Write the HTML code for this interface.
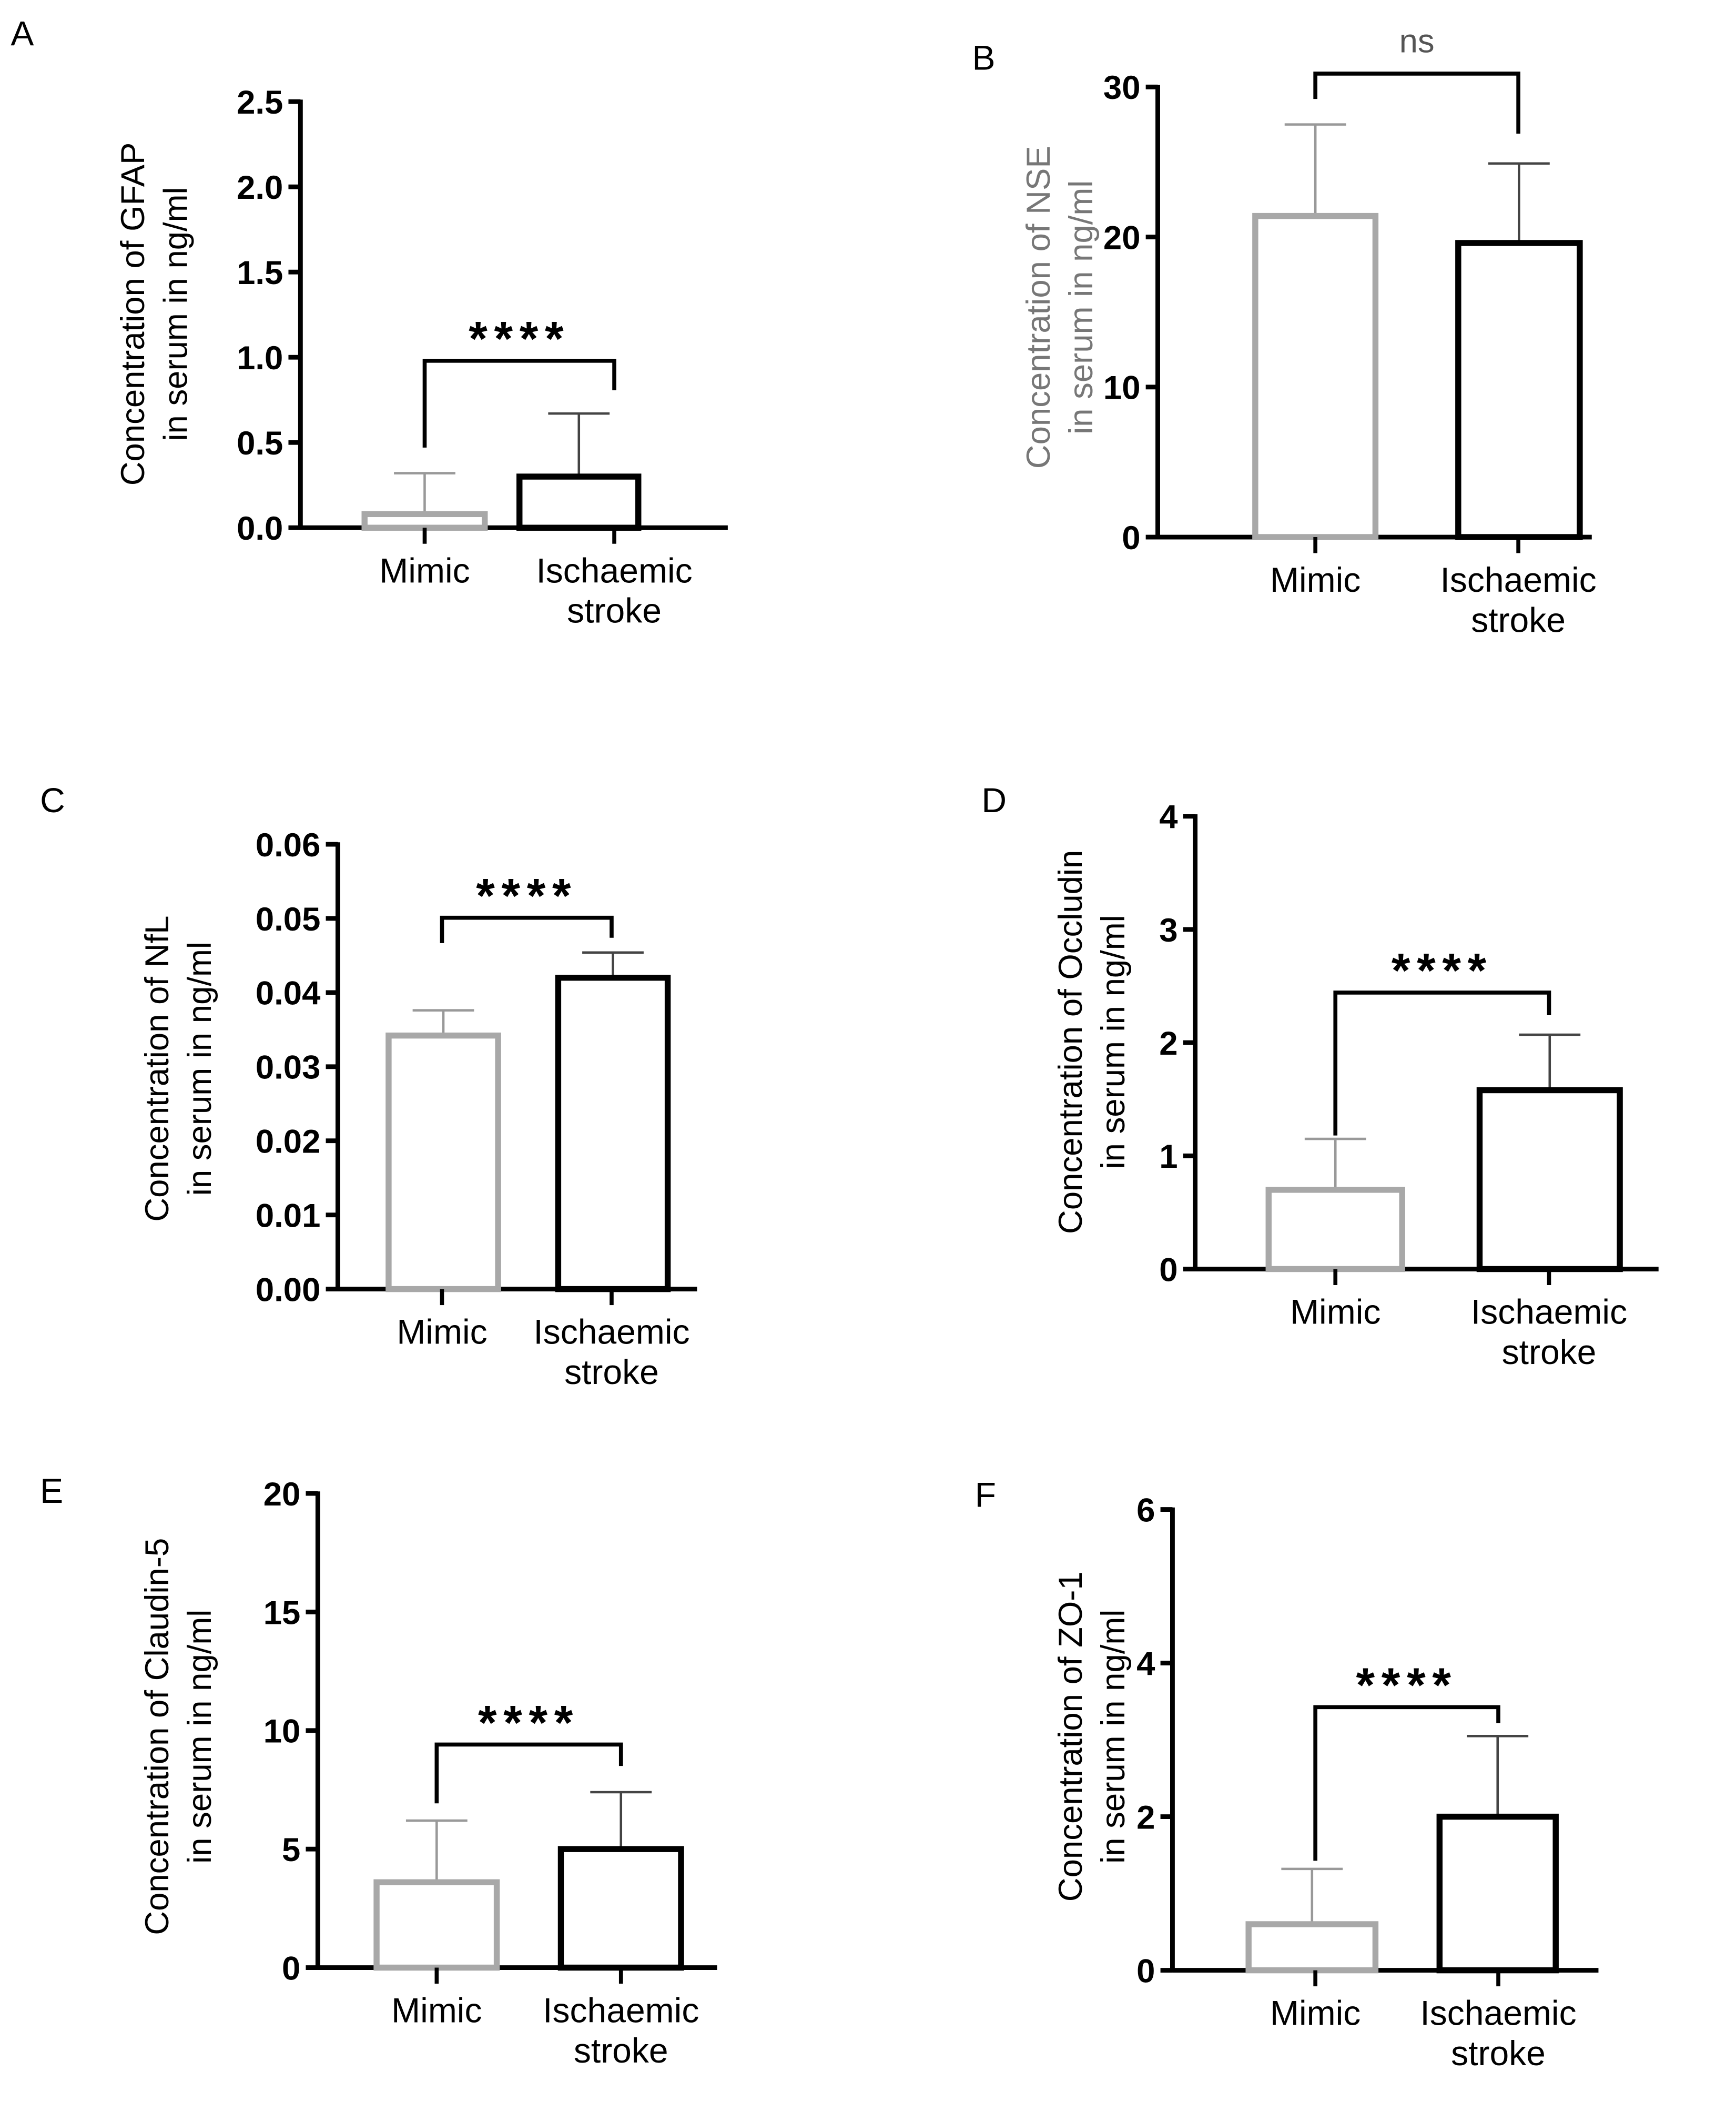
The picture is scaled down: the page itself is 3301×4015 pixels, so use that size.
<!DOCTYPE html>
<html><head><meta charset="utf-8"><style>
html,body{margin:0;padding:0;background:#fff}
svg{display:block}
text{font-family:"Liberation Sans",Arial,sans-serif}
</style></head><body>
<svg id="fig" width="3301" height="4015" viewBox="0 0 1300 1581" xmlns="http://www.w3.org/2000/svg">
<rect width="1300" height="1581" fill="#fff"/>
</svg>
<script>
const categories = ["Mimic", "Ischaemic stroke"];
const gfapMeans = [0.08, 0.30];
const gfapErr = [0.32, 0.67];
const gfapTicks = [0, 0.5, 1.0, 1.5, 2.0, 2.5];
const nseMeans = [21.4, 19.6];
const nseErr = [27.5, 24.9];
const nseTicks = [0, 10, 20, 30];
const nflMeans = [0.0342, 0.042];
const nflErr = [0.0376, 0.0454];
const nflTicks = [0, 0.01, 0.02, 0.03, 0.04, 0.05, 0.06];
const occMeans = [0.7, 1.58];
const occErr = [1.15, 2.07];
const occTicks = [0, 1, 2, 3, 4];
const claMeans = [3.6, 5.0];
const claErr = [6.2, 7.4];
const claTicks = [0, 5, 10, 15, 20];
const zoMeans = [0.6, 2.0];
const zoErr = [1.32, 3.05];
const zoTicks = [0, 2, 4, 6];

const NS = "http://www.w3.org/2000/svg";
const svg = document.getElementById("fig");
function mk(tag, attrs, parent, txt) {
  const e = document.createElementNS(NS, tag);
  for (const k in attrs) e.setAttribute(k, attrs[k]);
  if (txt !== undefined) e.textContent = txt;
  (parent || svg).appendChild(e);
  return e;
}

function panel(cfg, means, errs, ticks) {
  const g = mk("g", {});
  
  
  const ymax = ticks[ticks.length - 1];
  const y = v => cfg.y0 - (v / ymax) * (cfg.y0 - cfg.y1);
  const lt = mk("text", {x: cfg.lx, y: cfg.ly, "font-size": 26}, g, cfg.letter);
  
  
  const ya = mk("line", {x1: cfg.ax, y1: cfg.y1 - 1.5, x2: cfg.ax, y2: cfg.y0 + 1.5, stroke: "#000", "stroke-width": 3.5}, g);
  
  
  const xa = mk("line", {x1: cfg.ax, y1: cfg.y0, x2: cfg.axEnd, y2: cfg.y0, stroke: "#000", "stroke-width": 3.5}, g);
  
  
  ticks.forEach(t => {
    mk("line", {x1: cfg.ax - 9, y1: y(t), x2: cfg.ax, y2: y(t), stroke: "#000", "stroke-width": 3.5}, g);
    const tl = mk("text", {x: cfg.ax - 13, y: y(t) + 9, "font-size": 25, "font-weight": "bold", "text-anchor": "end"}, g, cfg.fmt(t));
    
    
  });
  const tt = mk("text", {transform: `translate(${cfg.tx},${cfg.tcy}) rotate(-90)`, "font-size": 25, "text-anchor": "middle", fill: cfg.tcol || "#000"}, g);
  
  
  mk("tspan", {x: 0, y: 0}, tt, cfg.t1);
  mk("tspan", {x: 0, y: 32}, tt, "in serum in ng/ml");
  const cols = ["#a8a8a8", "#000"];
  const ecols = ["#999", "#444"];
  categories.forEach((c, i) => {
    const [bx0, bx1] = cfg.bars[i];
    const cx = (bx0 + bx1) / 2;
    const eb = mk("line", {x1: cx, y1: y(means[i]), x2: cx, y2: y(errs[i]), stroke: ecols[i], "stroke-width": 1.8}, g);
    
    
    mk("line", {x1: cx - 23, y1: y(errs[i]), x2: cx + 23, y2: y(errs[i]), stroke: ecols[i], "stroke-width": 1.8}, g);
    const b = mk("rect", {x: bx0, y: y(means[i]), width: bx1 - bx0, height: cfg.y0 - y(means[i]), fill: "none", stroke: cols[i], "stroke-width": 4.5}, g);
    
    
    mk("line", {x1: cfg.ct[i], y1: cfg.y0, x2: cfg.ct[i], y2: cfg.y0 + 12, stroke: "#000", "stroke-width": 3}, g);
    const cl = mk("text", {x: cfg.ct[i], y: cfg.y0 + 41, "font-size": 26, "text-anchor": "middle"}, g);
    
    
    if (i === 0) cl.textContent = c;
    else { mk("tspan", {x: cfg.ct[i], dy: 0}, cl, "Ischaemic"); mk("tspan", {x: cfg.ct[i], dy: 30}, cl, "stroke"); }
  });
  const br = cfg.br;
  const bp = mk("polyline", {points: `${cfg.ct[0]},${br[0]} ${cfg.ct[0]},${br[1]} ${cfg.ct[1]},${br[1]} ${cfg.ct[1]},${br[2]}`, fill: "none", stroke: "#000", "stroke-width": 3}, g);
  
  
  const st = mk("text", {x: (cfg.ct[0] + cfg.ct[1]) / 2, y: cfg.sig === "ns" ? br[1] - 16 : br[1] - 4, "font-size": cfg.sig === "ns" ? 25 : 36, "font-weight": cfg.sig === "ns" ? "normal" : "bold", "text-anchor": "middle", "letter-spacing": cfg.sig === "ns" ? 0 : 5, fill: cfg.sig === "ns" ? "#555" : "#000"}, g, cfg.sig);
  
  
}

const f1 = t => t.toFixed(1), f2 = t => t.toFixed(2), f0 = t => String(t);
panel({letter: "A", lx: 8, ly: 34, ax: 225, axEnd: 545, y0: 395, y1: 76, fmt: f1, tx: 108, tcy: 235, t1: "Concentration of GFAP",
  bars: [[273, 363], [389, 478]], ct: [318, 460], br: [335, 270, 292], sig: "****"}, gfapMeans, gfapErr, gfapTicks);
panel({letter: "B", lx: 728, ly: 52, ax: 867, axEnd: 1192, y0: 402, y1: 65, fmt: f0, tx: 786, tcy: 230, t1: "Concentration of NSE", tcol: "#777",
  bars: [[940, 1030], [1092, 1183]], ct: [985, 1137], br: [74, 55, 100], sig: "ns"}, nseMeans, nseErr, nseTicks);
panel({letter: "C", lx: 30, ly: 608, ax: 253, axEnd: 522, y0: 965, y1: 632, fmt: f2, tx: 126, tcy: 800, t1: "Concentration of NfL",
  bars: [[291, 373], [418, 500]], ct: [331, 458], br: [706, 687, 702], sig: "****"}, nflMeans, nflErr, nflTicks);
panel({letter: "D", lx: 735, ly: 608, ax: 895, axEnd: 1242, y0: 950, y1: 611, fmt: f0, tx: 810, tcy: 780, t1: "Concentration of Occludin",
  bars: [[950, 1050], [1108, 1213]], ct: [1000, 1160], br: [850, 743, 760], sig: "****"}, occMeans, occErr, occTicks);
panel({letter: "E", lx: 30, ly: 1125, ax: 238, axEnd: 537, y0: 1473, y1: 1118, fmt: f0, tx: 126, tcy: 1300, t1: "Concentration of Claudin-5",
  bars: [[282, 372], [420, 510]], ct: [327, 465], br: [1350, 1306, 1322], sig: "****"}, claMeans, claErr, claTicks);
panel({letter: "F", lx: 730, ly: 1128, ax: 878, axEnd: 1197, y0: 1475, y1: 1130, fmt: f0, tx: 810, tcy: 1300, t1: "Concentration of ZO-1",
  bars: [[935, 1030], [1078, 1165]], ct: [985, 1122], br: [1393, 1278, 1290], sig: "****"}, zoMeans, zoErr, zoTicks);
</script>
</body></html>
